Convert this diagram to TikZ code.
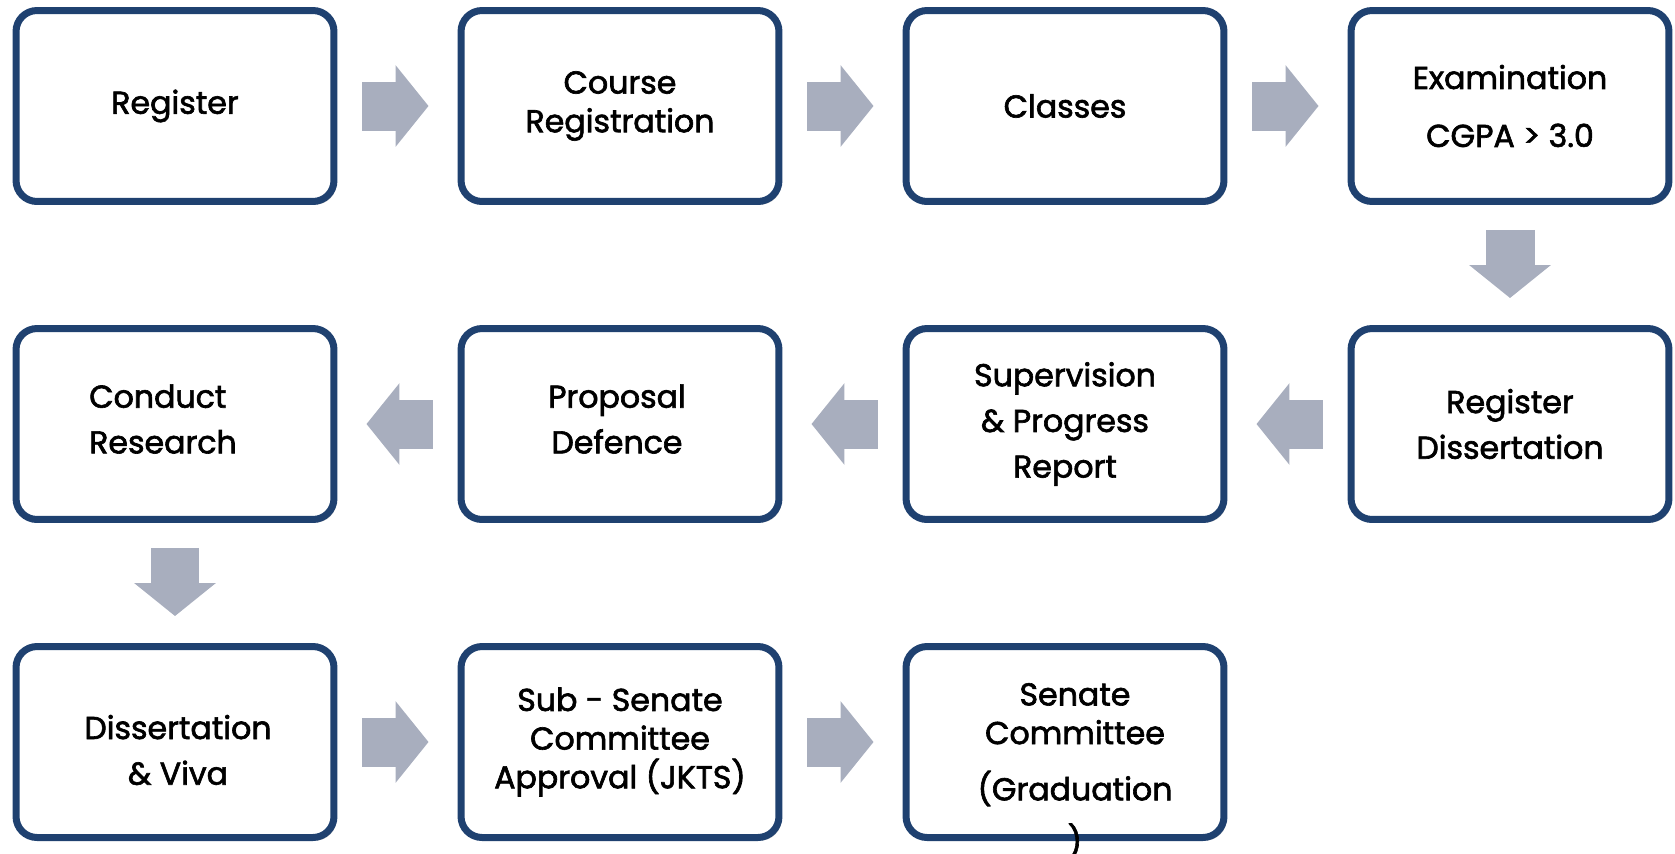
\documentclass[tikz,border=0pt]{standalone}
\usepackage{fontspec}
\setmainfont{Poppins}
\newfontfamily\stagefont{Poppins}[FakeBold=2]
\usetikzlibrary{positioning,calc,arrows.meta,shadows}

\definecolor{boxblue}{HTML}{1F4170}
\definecolor{arrowgray}{HTML}{A8AEBE}

\tikzset{
  stage/.style={draw=boxblue, line width=0.14cm, rounded corners=0.42cm, fill=white,
    minimum width=6.36cm, minimum height=3.82cm, inner sep=0pt,
    drop shadow={shadow xshift=0.05cm, shadow yshift=-0.06cm, opacity=0.25, fill=black}},
  stagetext/.style={font=\stagefont\fontsize{18}{26}\selectfont, align=center, text=black, inner sep=0pt},
  flow/.style={draw=arrowgray, line width=0.98cm,
    -{Triangle[width=1.6cm, length=0.66cm]}}
}

\begin{document}
\begin{tikzpicture}[x=0.02cm, y=-0.02cm]
    % --- grid: 1 unit = 1 px of the sketch ---
    \def\ColA{175}  \def\ColB{620}  \def\ColC{1065} \def\ColD{1510}
    \def\RowA{106}  \def\RowB{424}  \def\RowC{742}
    \def\Gap{25}    % space between box and arrow
    \useasboundingbox (0,0) rectangle (1675,853);

    % --- boxes ---
    \node[stage] (s1)  at (\ColA,\RowA) {};
    \node[stage] (s2)  at (\ColB,\RowA) {};
    \node[stage] (s3)  at (\ColC,\RowA) {};
    \node[stage] (s4)  at (\ColD,\RowA) {};
    \node[stage] (s5)  at (\ColD,\RowB) {};
    \node[stage] (s6)  at (\ColC,\RowB) {};
    \node[stage] (s7)  at (\ColB,\RowB) {};
    \node[stage] (s8)  at (\ColA,\RowB) {};
    \node[stage] (s9)  at (\ColA,\RowC) {};
    \node[stage] (s10) at (\ColB,\RowC) {};
    \node[stage] (s11) at (\ColC,\RowC) {};

    % --- texts ---
    \node[stagetext] (t1)  at (s1) {Register};
    \node[stagetext] (t2)  at (s2) {Course\\[-4pt]Registration};
    \node[stagetext] (t3)  at (s3) {Classes};
    \node[stagetext] (t4)  at (s4) {Examination\\[7pt]CGPA > 3.0};
    \node[stagetext] (t5)  at (s5) {Register\\Dissertation};
    \node[stagetext] (t6)  at (s6) {Supervision\\\& Progress\\Report};
    \node[stagetext] (t7)  at ($(s7)+(-3,-5)$) {Proposal\\Defence};
    \node[stagetext, align=left] (t8) at ($(s8)+(-12,-5)$) {Conduct\\Research};
    \node[stagetext] (t9)  at ($(s9)+(3,8)$) {Dissertation\\\& Viva};
    \node[stagetext] (t10) at (s10) {Sub - Senate\\[-4pt]Committee\\[-4pt]Approval (JKTS)};
    \node[stagetext] (t11) at ($(s11)+(10,29)$) {Senate\\[-4pt]Committee\\[6pt](Graduation\\[4pt])};

    % --- arrows between boxes ---
    \draw[flow] ($(s1.east)+(\Gap,0)$) -- ($(s2.west)+(-\Gap-4,0)$);
    \draw[flow] ($(s2.east)+(\Gap,0)$) -- ($(s3.west)+(-\Gap-4,0)$);
    \draw[flow] ($(s3.east)+(\Gap,0)$) -- ($(s4.west)+(-\Gap-4,0)$);
    \draw[flow] ($(s4.south)+(0,\Gap)$) -- ($(s5.north)+(0,-\Gap-2)$);
    \draw[flow] ($(s5.west)+(-\Gap,0)$) -- ($(s6.east)+(\Gap+4,0)$);
    \draw[flow] ($(s6.west)+(-\Gap,0)$) -- ($(s7.east)+(\Gap+4,0)$);
    \draw[flow] ($(s7.west)+(-\Gap,0)$) -- ($(s8.east)+(\Gap+4,0)$);
    \draw[flow] ($(s8.south)+(0,\Gap)$) -- ($(s9.north)+(0,-\Gap-2)$);
    \draw[flow] ($(s9.east)+(\Gap,0)$) -- ($(s10.west)+(-\Gap-4,0)$);
    \draw[flow] ($(s10.east)+(\Gap,0)$) -- ($(s11.west)+(-\Gap-4,0)$);

\end{tikzpicture}
\end{document}
